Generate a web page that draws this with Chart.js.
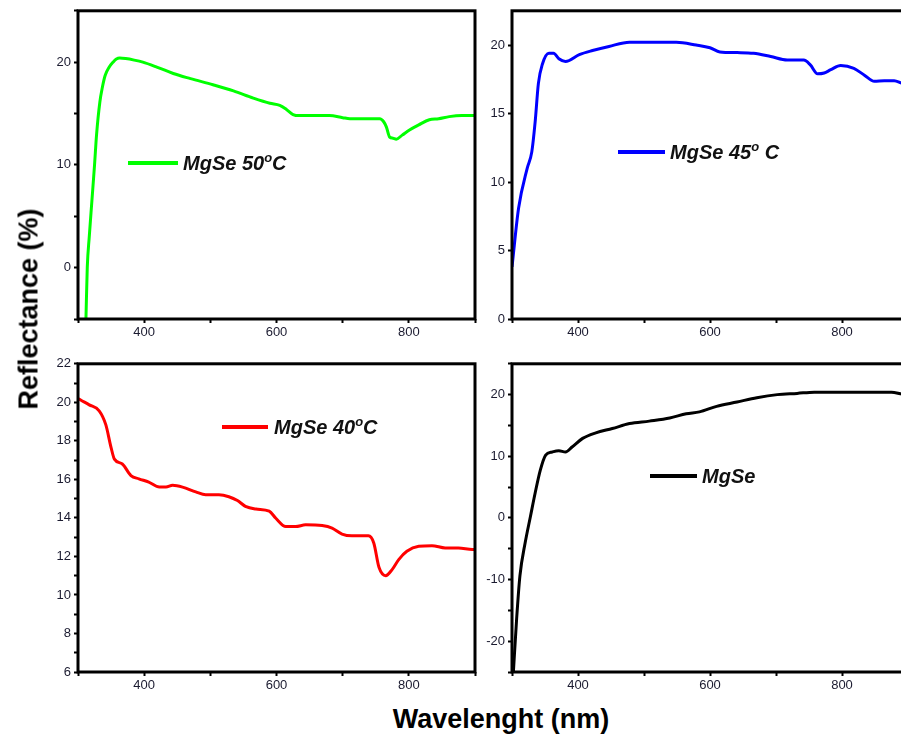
<!DOCTYPE html>
<html>
<head>
<meta charset="utf-8">
<script src="https://cdn.jsdelivr.net/npm/chart.js@4.4.0/dist/chart.umd.min.js"></script>
<style>
  html, body { margin: 0; padding: 0; background: #fff; width: 901px; height: 740px; overflow: hidden; }
  .panel { position: absolute; }
  .legend { position: absolute; font-family: Arial, 'Liberation Sans', sans-serif; font-weight: bold; font-style: italic; font-size: 20px; color: #111; white-space: nowrap; line-height: 20px; }
  .legend sup { font-size: 0.65em; vertical-align: 0.6em; line-height: 0; }
  .lline { position: absolute; height: 4px; }
  .atitle { position: absolute; font-family: Arial, 'Liberation Sans', sans-serif; font-weight: bold; font-size: 27px; color: #000; white-space: nowrap; }
</style>
</head>
<body>
<div class="panel" style="left:28px;top:0px;"><canvas id="c50" width="452" height="345"></canvas></div>
<div class="panel" style="left:462px;top:0px;"><canvas id="c45" width="451" height="345"></canvas></div>
<div class="panel" style="left:28px;top:353px;"><canvas id="c40" width="452" height="345"></canvas></div>
<div class="panel" style="left:462px;top:353px;"><canvas id="c0" width="451" height="345"></canvas></div>

<div class="lline" style="left:128px;top:161px;width:50px;background:#00ff00;"></div>
<div class="legend" style="left:183px;top:153px;">MgSe 50<sup>o</sup>C</div>
<div class="lline" style="left:618px;top:150px;width:47px;background:#0000ff;"></div>
<div class="legend" style="left:670px;top:142px;">MgSe 45<sup>o</sup> C</div>
<div class="lline" style="left:222px;top:425px;width:46px;background:#ff0000;"></div>
<div class="legend" style="left:274px;top:417px;">MgSe 40<sup>o</sup>C</div>
<div class="lline" style="left:650px;top:474px;width:47px;background:#000000;"></div>
<div class="legend" style="left:702px;top:466px;">MgSe</div>

<div class="atitle" style="left:29px;top:309px;transform:translate(-50%,-50%) rotate(-90deg);">Reflectance (%)</div>
<div class="atitle" style="left:501px;top:719px;transform:translate(-50%,-50%);">Wavelenght (nm)</div>

<script>
// ---- Data ----
const wl50 = [312, 314, 317, 321, 325, 328, 333, 337, 341, 347, 353, 358, 363, 372, 385, 398, 420, 444, 470, 504, 535, 565, 590, 605, 615, 625, 635, 660, 680, 700, 711, 730, 756, 762, 766, 771, 776, 781, 790, 801, 815, 831, 845, 861, 880, 900];
const r50  = [-5, 0, 3, 6.5, 10, 12.9, 16.1, 17.6, 18.7, 19.5, 20, 20.3, 20.4, 20.35, 20.2, 20, 19.5, 18.9, 18.4, 17.8, 17.2, 16.5, 16.0, 15.8, 15.4, 14.9, 14.8, 14.8, 14.8, 14.6, 14.5, 14.5, 14.5, 14.2, 13.7, 12.7, 12.6, 12.5, 12.9, 13.4, 13.9, 14.4, 14.5, 14.7, 14.8, 14.8];

const wl45 = [300, 310, 323, 330, 335, 340, 346, 356, 363, 371, 381, 402, 422, 447, 478, 513, 549, 579, 600, 615, 641, 666, 692, 717, 742, 752, 763, 773, 783, 798, 818, 834, 849, 864, 879, 891, 900];
const r45  = [3.8, 8.1, 11, 12.2, 14.35, 17.2, 18.6, 19.4, 19.4, 19.0, 18.8, 19.3, 19.6, 19.9, 20.2, 20.2, 20.2, 20.0, 19.8, 19.5, 19.45, 19.4, 19.16, 18.9, 18.9, 18.55, 17.9, 17.96, 18.2, 18.5, 18.3, 17.8, 17.35, 17.4, 17.4, 17.2, 17.1];

const wl40 = [300, 304, 317, 332, 342, 350, 355, 367, 380, 392, 407, 423, 433, 443, 458, 478, 493, 513, 528, 541, 553, 569, 589, 599, 614, 629, 644, 669, 684, 699, 714, 739, 747, 755, 765, 775, 785, 797, 815, 835, 855, 875, 896, 900];
const r40  = [20.2, 20.12, 19.87, 19.56, 18.84, 17.65, 17.05, 16.8, 16.2, 16.03, 15.86, 15.6, 15.6, 15.69, 15.6, 15.35, 15.2, 15.2, 15.1, 14.9, 14.6, 14.46, 14.35, 13.98, 13.55, 13.55, 13.64, 13.6, 13.47, 13.16, 13.07, 13.07, 12.7, 11.42, 11.0, 11.33, 11.85, 12.27, 12.53, 12.56, 12.44, 12.44, 12.36, 12.36];

const wl0 = [302, 307, 312, 320, 328, 335, 343, 351, 361, 371, 381, 391, 407, 427, 452, 478, 508, 539, 564, 584, 610, 641, 671, 702, 732, 758, 793, 834, 875, 891, 900];
const r0  = [-25.2, -16.4, -9.4, -4.0, 0.27, 4.0, 7.8, 10.2, 10.7, 10.9, 10.7, 11.5, 12.9, 13.8, 14.5, 15.3, 15.7, 16.2, 16.9, 17.2, 18.1, 18.8, 19.5, 20.0, 20.2, 20.4, 20.4, 20.4, 20.4, 20.1, 20.0];

// tick labels shown on each axis
const xTickLabels = [400, 600, 800];
const yLabels50 = [0, 10, 20];
const yLabels45 = [0, 5, 10, 15, 20];
const yLabels40 = [6, 8, 10, 12, 14, 16, 18, 20, 22];
const yLabels0  = [-20, -10, 0, 10, 20];

// ---- Chart construction ----
const tickFont = { family: "Arial, 'Liberation Sans', sans-serif", size: 13 };
const tickColor = '#1b1b30';

const framePlugin = {
  id: 'frame',
  afterDatasetsDraw(chart) {
    const a = chart.chartArea, ctx = chart.ctx;
    ctx.save();
    ctx.strokeStyle = '#000';
    ctx.lineWidth = 3;
    ctx.strokeRect(a.left, a.top, a.right - a.left, a.bottom - a.top);
    ctx.restore();
  }
};

function pts(xs, ys) { return xs.map((x, i) => ({ x: x, y: ys[i] })); }

function makeChart(id, xs, ys, color, ymin, ymax, ystep, ylabels) {
  new Chart(document.getElementById(id), {
    type: 'line',
    data: { datasets: [{ data: pts(xs, ys), borderColor: color, borderWidth: 3, pointRadius: 0, fill: false, cubicInterpolationMode: 'monotone' }] },
    options: {
      responsive: false,
      animation: false,
      events: [],
      layout: { padding: { left: 0, top: 7, right: 5, bottom: 0 } },
      plugins: { legend: { display: false }, tooltip: { enabled: false } },
      scales: {
        x: {
          type: 'linear', min: 300, max: 900,
          afterFit(s) { s.height = 26; },
          border: { display: false },
          grid: { drawOnChartArea: false, drawTicks: true, tickLength: 4, tickWidth: 2, tickColor: '#000' },
          ticks: { stepSize: 100, autoSkip: false, maxRotation: 0, font: tickFont, color: tickColor, padding: 2,
                   callback: v => xTickLabels.includes(v) ? String(v) : '' }
        },
        y: {
          type: 'linear', min: ymin, max: ymax,
          afterFit(s) { s.width = 50; },
          border: { display: false },
          grid: { drawOnChartArea: false, drawTicks: true, tickLength: 4, tickWidth: 2, tickColor: '#000' },
          ticks: { stepSize: ystep, includeBounds: false, autoSkip: false, font: tickFont, color: tickColor, padding: 3,
                   callback: v => ylabels.includes(v) ? String(v) : '' }
        }
      }
    },
    plugins: [framePlugin]
  });
}

makeChart('c50', wl50, r50, '#00ff00', -5, 25, 5, yLabels50);
makeChart('c45', wl45, r45, '#0000ff', 0, 22.5, 5, yLabels45);
makeChart('c40', wl40, r40, '#ff0000', 6, 22, 1, yLabels40);
makeChart('c0',  wl0,  r0,  '#000000', -25, 25, 5, yLabels0);
</script>
</body>
</html>
